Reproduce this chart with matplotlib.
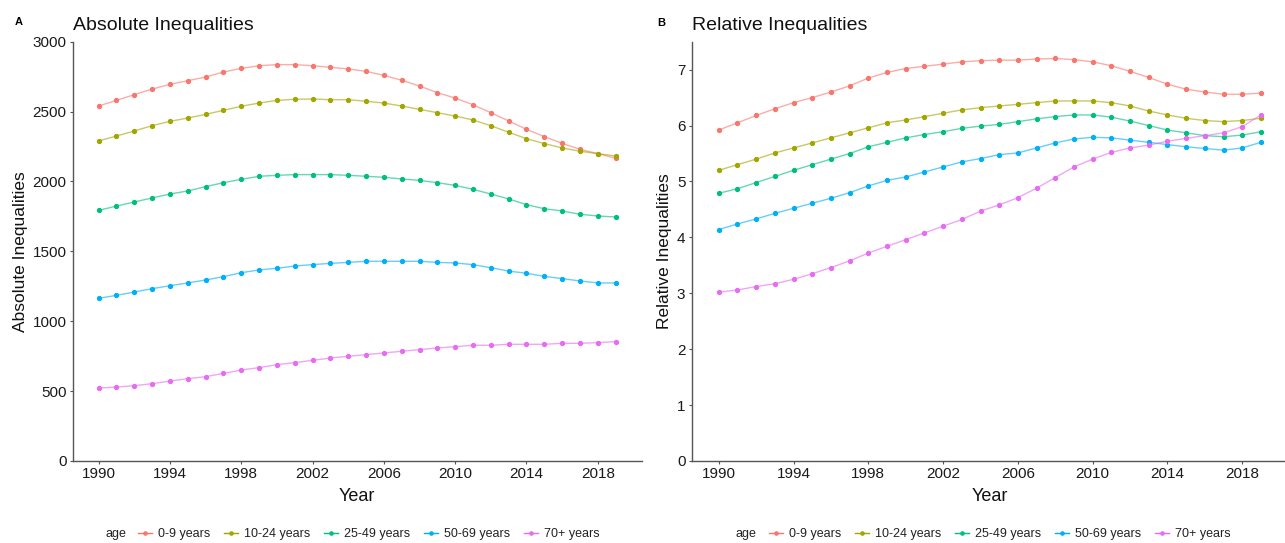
import matplotlib
matplotlib.use("Agg")
import matplotlib.pyplot as plt
from matplotlib.lines import Line2D

plt.rcParams["font.family"] = ["Liberation Sans", "DejaVu Sans"]

years = list(range(1990, 2020))
age_groups = ["0-9 years", "10-24 years", "25-49 years", "50-69 years", "70+ years"]
colors = ["#F8766D", "#A3A500", "#00BF7D", "#00B0F6", "#E76BF3"]

# Panel A: absolute inequalities
abs_0_9 = [2540, 2580, 2621, 2661, 2695, 2721, 2747, 2783, 2809, 2828,
           2836, 2836, 2828, 2817, 2805, 2788, 2759, 2724, 2683, 2635,
           2597, 2549, 2492, 2433, 2373, 2321, 2273, 2230, 2199, 2166]
abs_10_24 = [2290, 2325, 2361, 2399, 2430, 2454, 2480, 2509, 2538, 2561,
             2580, 2588, 2590, 2585, 2585, 2574, 2561, 2540, 2516, 2492,
             2468, 2440, 2399, 2352, 2306, 2271, 2240, 2216, 2199, 2182]
abs_25_49 = [1793, 1824, 1853, 1882, 1910, 1932, 1963, 1991, 2015, 2037,
             2044, 2049, 2049, 2049, 2044, 2037, 2030, 2018, 2008, 1991,
             1972, 1944, 1910, 1875, 1834, 1805, 1789, 1765, 1753, 1746]
abs_50_69 = [1164, 1185, 1209, 1233, 1254, 1274, 1295, 1319, 1347, 1367,
             1379, 1395, 1405, 1414, 1421, 1429, 1429, 1429, 1429, 1421,
             1417, 1405, 1383, 1359, 1343, 1321, 1305, 1288, 1274, 1274]
abs_70 = [522, 529, 539, 553, 572, 589, 603, 627, 651, 668,
          689, 704, 720, 737, 749, 761, 773, 785, 797, 809,
          818, 828, 828, 835, 835, 835, 842, 842, 847, 854]

# Panel B: relative inequalities
rel_0_9 = [5.92, 6.05, 6.18, 6.30, 6.41, 6.50, 6.60, 6.71, 6.85, 6.95,
           7.02, 7.06, 7.10, 7.14, 7.16, 7.17, 7.17, 7.19, 7.20, 7.18,
           7.14, 7.07, 6.97, 6.86, 6.74, 6.65, 6.60, 6.56, 6.56, 6.58]
rel_10_24 = [5.20, 5.30, 5.40, 5.51, 5.60, 5.69, 5.78, 5.87, 5.96, 6.05,
             6.10, 6.16, 6.22, 6.28, 6.32, 6.35, 6.38, 6.41, 6.44, 6.44,
             6.44, 6.41, 6.35, 6.26, 6.19, 6.13, 6.09, 6.07, 6.09, 6.13]
rel_25_49 = [4.79, 4.87, 4.98, 5.09, 5.20, 5.30, 5.40, 5.50, 5.62, 5.70,
             5.78, 5.84, 5.89, 5.95, 5.99, 6.02, 6.07, 6.12, 6.16, 6.19,
             6.19, 6.15, 6.08, 6.00, 5.92, 5.87, 5.82, 5.80, 5.83, 5.89]
rel_50_69 = [4.14, 4.24, 4.33, 4.43, 4.52, 4.61, 4.70, 4.80, 4.92, 5.02,
             5.08, 5.17, 5.26, 5.35, 5.41, 5.48, 5.51, 5.60, 5.69, 5.76,
             5.79, 5.78, 5.74, 5.70, 5.66, 5.62, 5.59, 5.56, 5.60, 5.70]
rel_70 = [3.02, 3.06, 3.12, 3.17, 3.25, 3.35, 3.46, 3.58, 3.72, 3.84,
          3.96, 4.08, 4.20, 4.32, 4.47, 4.58, 4.71, 4.88, 5.07, 5.26,
          5.40, 5.52, 5.60, 5.65, 5.72, 5.77, 5.82, 5.87, 5.98, 6.19]

abs_series = [abs_0_9, abs_10_24, abs_25_49, abs_50_69, abs_70]
rel_series = [rel_0_9, rel_10_24, rel_25_49, rel_50_69, rel_70]

W, H = 1285, 543
fig = plt.figure(figsize=(W / 100, H / 100), dpi=100)

ax_a = fig.add_axes([72.7 / W, 1 - 461 / H, (641.5 - 72.7) / W, (461 - 41.7) / H])
ax_b = fig.add_axes([691.7 / W, 1 - 461 / H, (1288 - 691.7) / W, (461 - 41.7) / H])


def style_axes(ax, title, ylabel):
    for s in ["top", "right"]:
        ax.spines[s].set_visible(False)
    for s in ["left", "bottom"]:
        ax.spines[s].set_color("#555555")
        ax.spines[s].set_linewidth(1.0)
    ax.tick_params(length=2.5, width=0.8, color="#555555", pad=2,
                   labelsize=11, labelcolor="#1a1a1a")
    ax.set_xlim(1988.55, 2020.45)
    ax.set_xticks(range(1990, 2019, 4))
    ax.set_xlabel("Year", fontsize=13, labelpad=5, color="#111111")
    ax.set_ylabel(ylabel, fontsize=12.5, labelpad=3.5, color="#111111")
    ax.set_title(title, loc="left", fontsize=14, pad=8.4, color="#111111")


for vals, c in zip(abs_series, colors):
    ax_a.plot(years, vals, color=c, lw=1.0, alpha=0.6, zorder=2)
    ax_a.plot(years, vals, color=c, lw=0, marker="o", ms=2.8, zorder=3)
for vals, c in zip(rel_series, colors):
    ax_b.plot(years, vals, color=c, lw=1.0, alpha=0.6, zorder=2)
    ax_b.plot(years, vals, color=c, lw=0, marker="o", ms=2.8, zorder=3)

style_axes(ax_a, "Absolute Inequalities", "Absolute Inequalities")
ax_a.set_ylim(0, 3000)
ax_a.set_yticks(range(0, 3001, 500))

style_axes(ax_b, "Relative Inequalities", "Relative Inequalities")
ax_b.set_ylim(0, 7.5)
ax_b.set_yticks(range(0, 8))

fig.text(15 / W, 1 - 25 / H, "A", fontsize=8, weight="bold", va="baseline")
fig.text(657 / W, 1 - 25.5 / H, "B", fontsize=8, weight="bold", va="baseline")

handles = [Line2D([], [], color=c, marker="o", ms=2.3, lw=1.0) for c in colors]
for x_age, x_leg in [(105, 138), (736, 769)]:
    fig.text(x_age / W, 1 - 534 / H, "age", fontsize=9, va="center", color="#222222")
    fig.legend(handles, age_groups, loc="center left",
               bbox_to_anchor=(x_leg / W, 1 - 534 / H), ncol=5, frameon=False,
               fontsize=9, handlelength=1.1, handletextpad=0.5,
               columnspacing=1.1, borderpad=0, borderaxespad=0,
               labelcolor="#222222")

fig.savefig("out.png", dpi=100)
